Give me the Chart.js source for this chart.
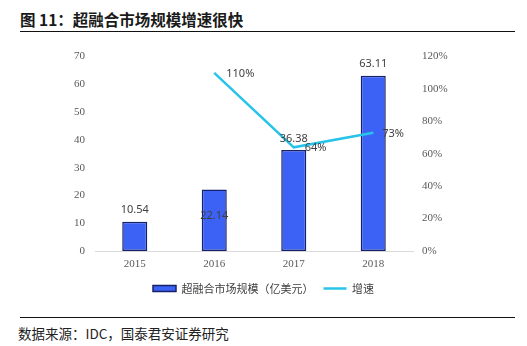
<!DOCTYPE html>
<html>
<head>
<meta charset="utf-8">
<script src="https://cdn.jsdelivr.net/npm/chart.js@4/dist/chart.umd.min.js"></script>
<style>
  html, body { margin: 0; padding: 0; background: #fff; }
  body { width: 527px; height: 346px; position: relative; overflow: hidden; }
  #title { position: absolute; left: 20px; top: 8px; font-family: "Noto Sans CJK SC", sans-serif; font-weight: bold; font-size: 15.5px; color: #1a1a1a; white-space: nowrap; }
  #rule1 { position: absolute; left: 20px; top: 31px; width: 495px; height: 1px; background: #111; }
  #rule2 { position: absolute; left: 20px; top: 317px; width: 495px; height: 1px; background: #111; }
  #source { position: absolute; left: 18px; top: 323px; font-family: "Noto Sans CJK SC", sans-serif; font-size: 13.5px; color: #222; white-space: nowrap; }
  #chart { position: absolute; left: 0; top: 40px; }
</style>
</head>
<body>
<div id="title">图 11：超融合市场规模增速很快</div>
<div id="rule1"></div>
<canvas id="chart" width="527" height="264"></canvas>
<div id="rule2"></div>
<div id="source">数据来源：IDC，国泰君安证券研究</div>
<script>
const categories = ['2015', '2016', '2017', '2018'];
const marketSize = [10.54, 22.14, 36.38, 63.11];
const growthRate = [null, 110, 64, 73];
const growthLabels = [null, '110%', '64%', '73%'];
const seriesNames = ['超融合市场规模（亿美元）', '增速'];

const labelPlugin = {
  id: 'valueLabels',
  afterDatasetsDraw(chart, args, opts) {
    const ctx = chart.ctx;
    ctx.save();
    ctx.font = '11px "Noto Sans", sans-serif';
    ctx.fillStyle = '#404040';
    const barMeta = chart.getDatasetMeta(0);
    barMeta.data.forEach((el, i) => {
      const off = opts.barOffsets[i];
      ctx.textAlign = 'center';
      ctx.textBaseline = 'middle';
      ctx.fillText(marketSize[i].toFixed(2), el.x, el.y + off);
    });
    const lineMeta = chart.getDatasetMeta(1);
    lineMeta.data.forEach((el, i) => {
      if (growthRate[i] === null) return;
      ctx.textAlign = 'left';
      ctx.textBaseline = 'middle';
      ctx.fillText(growthLabels[i], el.x + opts.lineOffsets[i], el.y + 1);
    });
    ctx.restore();
  }
};

new Chart(document.getElementById('chart'), {
  data: {
    labels: categories,
    datasets: [
      {
        type: 'bar',
        label: seriesNames[0],
        data: marketSize,
        backgroundColor: '#3B62F4',
        borderColor: '#16206A',
        borderWidth: 1.5,
        borderSkipped: false,
        barPercentage: 0.315,
        categoryPercentage: 1,
        yAxisID: 'y',
        pointStyle: 'rect',
        order: 2
      },
      {
        type: 'line',
        label: seriesNames[1],
        data: growthRate,
        borderColor: '#27C3E8',
        backgroundColor: '#27C3E8',
        borderWidth: 2.5,
        pointRadius: 0,
        tension: 0,
        spanGaps: false,
        yAxisID: 'y1',
        pointStyle: 'line',
        order: 1
      }
    ]
  },
  options: {
    responsive: false,
    animation: false,
    layout: { padding: { top: 15, left: 0, right: 0, bottom: 0 } },
    scales: {
      x: {
        grid: { display: false, drawTicks: false },
        border: { display: true, color: '#d9d9d9', width: 1 },
        ticks: { color: '#595959', padding: 7, font: { family: '"Liberation Serif", serif', size: 11 } },
        afterFit(scale) { scale.height = 22; }
      },
      y: {
        position: 'left',
        min: 0, max: 70,
        grid: { display: false, drawTicks: false },
        border: { display: false },
        ticks: { stepSize: 10, color: '#595959', padding: 10, font: { family: '"Liberation Serif", serif', size: 11 } },
        afterFit(scale) { scale.width = 95; }
      },
      y1: {
        position: 'right',
        min: 0, max: 120,
        grid: { display: false, drawTicks: false },
        border: { display: false },
        ticks: { stepSize: 20, color: '#595959', padding: 9, callback: v => v + '%', font: { family: '"Liberation Serif", serif', size: 11 } },
        afterFit(scale) { scale.width = 114; }
      }
    },
    plugins: {
      legend: {
        position: 'bottom',
        labels: {
          usePointStyle: true,
          pointStyleWidth: 23,
          boxHeight: 6,
          padding: 10,
          color: '#404040',
          font: { family: '"Noto Sans CJK SC", sans-serif', size: 11 },
          sort: (a, b) => a.datasetIndex - b.datasetIndex
        }
      },
      tooltip: { enabled: false },
      valueLabels: {
        barOffsets: [-12, 26, -11, -12],
        lineOffsets: [0, 12, 11, 9]
      }
    }
  },
  plugins: [labelPlugin]
});
</script>
</body>
</html>
